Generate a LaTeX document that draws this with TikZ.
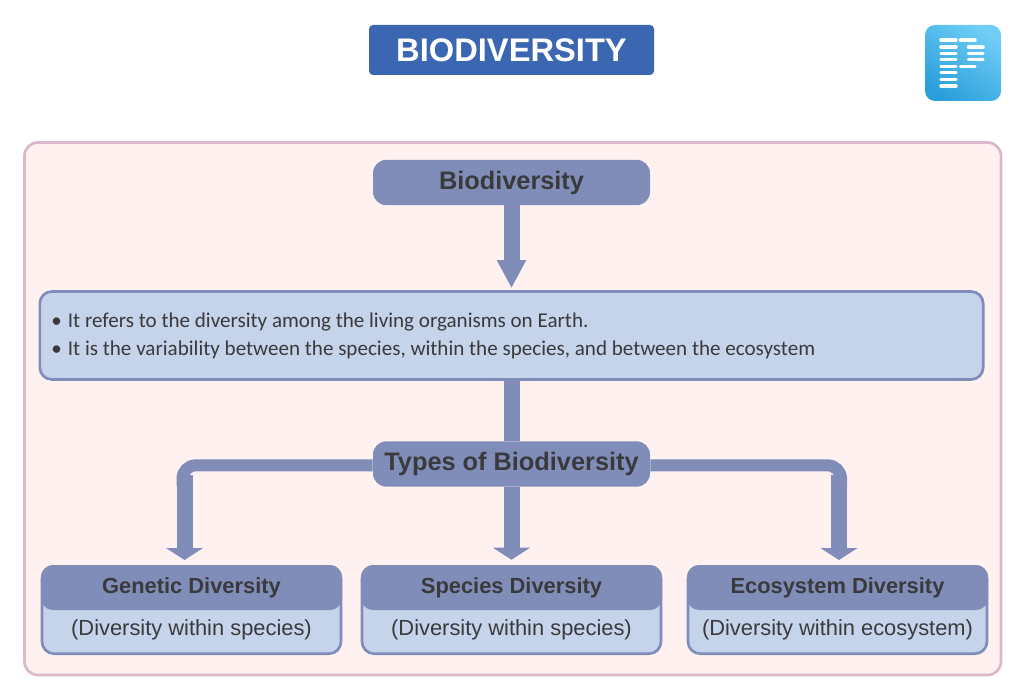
\documentclass[tikz,border=0pt]{standalone}
\usepackage{fontspec}
\setmainfont{Liberation Sans}
\newfontfamily\bulletfont{Carlito}
\usetikzlibrary{arrows.meta}
\definecolor{panelfill}{HTML}{FEF1F0}
\definecolor{panelline}{HTML}{D9B9C9}
\definecolor{headfill}{HTML}{808DB9}
\definecolor{bodyfill}{HTML}{C5D3EB}
\definecolor{titlefill}{HTML}{3B66B1}
\definecolor{inktext}{HTML}{3A3A3C}
\definecolor{logodark}{HTML}{2B9FDB}
\definecolor{logolight}{HTML}{6FCDF6}

\begin{document}
\begin{tikzpicture}[
  x=.75pt,y=-.75pt,
  titlebox/.style={
    fill=titlefill,
    rounded corners=3pt,
    minimum width=213.75pt,
    minimum height=37.5pt,
    inner sep=0pt,
    text=white,
    font=\bfseries\fontsize{24.5}{28}\selectfont
  },
  headbox/.style={
    fill=headfill,
    rounded corners=10pt,
    minimum width=207.75pt,
    minimum height=34pt,
    inner sep=0pt,
    text=inktext,
    font=\bfseries\fontsize{19}{22}\selectfont
  },
  infobox/.style={
    draw=headfill,
    fill=bodyfill,
    line width=2pt,
    rounded corners=9pt,
    minimum width=707.5pt,
    minimum height=66pt,
    inner sep=0pt
  },
  cardbody/.style={
    draw=headfill,
    fill=bodyfill,
    line width=2pt,
    rounded corners=9pt,
    minimum width=224.25pt,
    minimum height=65.5pt,
    inner sep=0pt
  },
  cardhead/.style={
    fill=headfill,
    rounded corners=9pt,
    minimum width=225.75pt,
    minimum height=33.75pt,
    inner sep=0pt,
    text=inktext,
    font=\bfseries\fontsize{16.4}{19}\selectfont
  },
  cardtext/.style={
    inner sep=0pt,
    text=inktext,
    font=\fontsize{16.4}{19}\selectfont
  },
  bigflow/.style={
    draw=headfill,
    line width=12pt,
    -{Triangle[length=21pt,width=20.5pt]}
  },
  lowflow/.style={
    draw=headfill,
    line width=12pt,
    -{Triangle[length=9pt,width=27.5pt]}
  },
  elbow/.style={
    draw=headfill,
    line width=9pt,
    rounded corners=10pt
  },
  logobar/.style={white,line width=2.6pt,line cap=round}
]
  \useasboundingbox (0,0) rectangle (1024,695);
  \path[fill=white] (0,0) rectangle (1024,695);

  % Title bar and logo
  \node[titlebox] (title) at (511.5,50) {BIODIVERSITY};
  \path[left color=logodark,right color=logolight,shading angle=145,rounded corners=7.5pt]
    (925,25) rectangle (1001,101);
  \draw[logobar]
    (941,40) -- (956,40) (941,47) -- (956,47) (941,53.3) -- (956,53.3)
    (941,59.7) -- (956,59.7) (941,66.3) -- (956,66.3) (941,72.7) -- (956,72.7)
    (941,79.3) -- (956,79.3) (941,86) -- (956,86)
    (960.5,40) -- (975,40) (968.5,47) -- (983,47) (968.5,53.3) -- (983,53.3)
    (968.5,59.7) -- (983,59.7) (960.5,66.3) -- (975,66.3);

  % Large panel behind the chart
  \path[fill=panelfill,draw=panelline,line width=2pt,rounded corners=10pt]
    (24.5,142.5) rectangle (1001,675);

  % Upper part of the chart
  \node[headbox] (bio) at (511.5,182.5) {Biodiversity};
  \node[infobox] (info) at (511.5,335.5) {};
  \node[anchor=west,inner sep=0pt,align=left,text=inktext,
    font=\bulletfont\fontsize{15.8}{21}\selectfont] (infotext) at (51,336)
    {\makebox[12.5pt][l]{\textbullet}It refers to the diversity among the living organisms on Earth.\\
     \makebox[12.5pt][l]{\textbullet}It is the variability between the species, within the species, and between the ecosystem};
  \draw[bigflow,shorten >=1.5pt] (bio.south) -- (info.north);

  % Lower part of the chart
  \node[headbox] (types) at (511.5,464) {Types of Biodiversity};
  \coordinate (geneticin) at (184.5,560);
  \coordinate (ecoin) at (839,560);
  \node[cardbody] (geneticbody) at (191.5,610) {};
  \node[cardbody] (speciesbody) at (511.5,610) {};
  \node[cardbody] (ecobody) at (837.5,610) {};
  \node[cardhead] (genetichead) at (191.5,587.5) {Genetic Diversity};
  \node[cardhead] (specieshead) at (511.5,587.5) {Species Diversity};
  \node[cardhead] (ecohead) at (837.5,587.5) {Ecosystem Diversity};
  \node[cardtext] (geneticsub) at (191.5,630) {(Diversity within species)};
  \node[cardtext] (speciessub) at (511.5,630) {(Diversity within species)};
  \node[cardtext] (ecosub) at (837.5,630) {(Diversity within ecosystem)};

  % Thin bends reach thicker shafts just below the corner
  \draw[draw=headfill,line width=12pt] (info.south) -- (types.north);
  \draw[lowflow,shorten >=3.75pt] (types.south) -- (specieshead.north);
  \draw[elbow] ([yshift=-1pt]types.west) -| (182.5,486);
  \draw[lowflow] (184.5,475) -- (geneticin);
  \draw[elbow] ([yshift=-1pt]types.east) -| (841,486);
  \draw[lowflow] (839,475) -- (ecoin);
\end{tikzpicture}
\end{document}
